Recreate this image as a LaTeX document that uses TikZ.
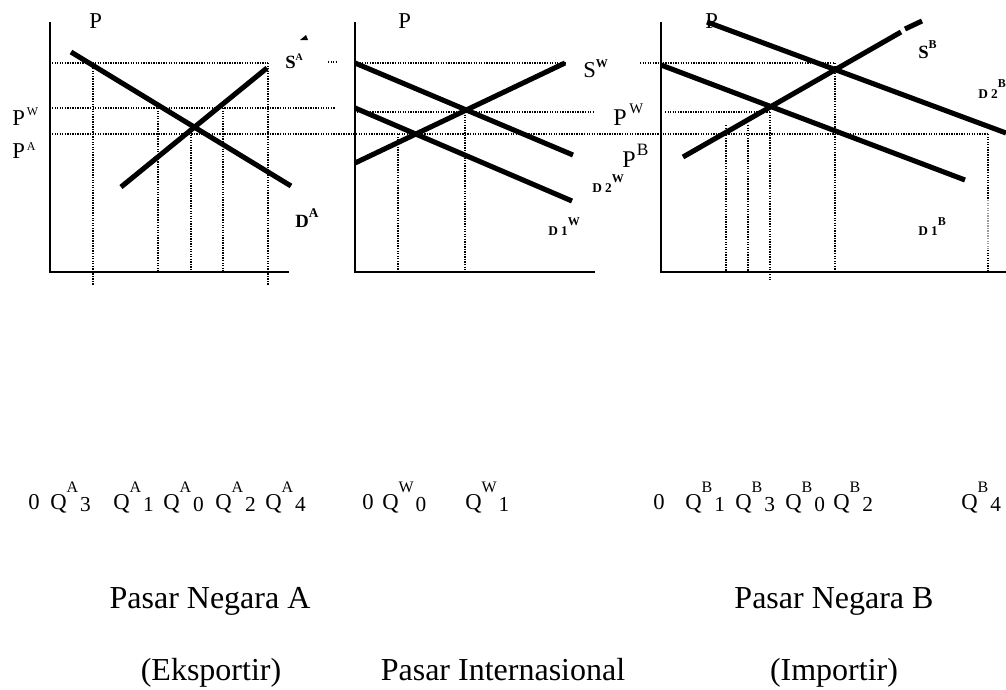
\documentclass[tikz,border=0pt]{standalone}
\usepackage{fontspec}
\setmainfont{Liberation Serif}
\usetikzlibrary{positioning}

% raised small letter: raise, size, text
\newcommand{\rais}[3]{\raisebox{#1}{\fontsize{#2}{#2}\selectfont #3}}
% quantity label Q^X_n
\newcommand{\qlab}[2]{Q\rais{12.5pt}{12}{#1}\kern1.5pt\raisebox{-2pt}{\fontsize{16}{16}\selectfont #2}}

\begin{document}
\begin{tikzpicture}[x=0.75pt, y=-0.75pt,
    axis/.style={draw=black, line width=1.8pt},
    curve/.style={draw=black, line width=3.8pt},
    guide/.style={draw=black, line width=1.3pt, dash pattern=on 1pt off 0.9pt},
    lbl/.style={inner sep=0pt, anchor=base west, font=\fontsize{17}{17}\selectfont},
    tag/.style={inner sep=0pt, anchor=base west, font=\bfseries\fontsize{10}{10}\selectfont},
    title/.style={inner sep=0pt, anchor=base, font=\fontsize{24}{24}\selectfont}
]
    \useasboundingbox (0,0) rectangle (1006,689);

    % Pasar Negara A
    \draw[guide] (52,63) -- (268,63);
    \draw[guide] (52,108) -- (335,108);
    \draw[guide] (52,134) -- (988,134);
    \draw[guide] (93,63) -- (93,285);
    \draw[guide] (158,108) -- (158,272);
    \draw[guide] (191,132) -- (191,272);
    \draw[guide] (223,108) -- (223,272);
    \draw[guide] (268,63) -- (268,285);
    \draw[axis] (50,22) -- (50,272) -- (289,272);
    \draw[curve] (71,52) -- (291,186);
    \draw[curve] (121,187) -- (267,68);
    \fill (300,40) -- (308,40) -- (306,35) -- cycle;

    \node[lbl] (pA) at (89,28) {P};
    \node[lbl] (pwA) at (12,125) {P\kern1.5pt\rais{7.5pt}{9}{W}};
    \node[lbl] (paA) at (12,158) {P\kern1.5pt\rais{6pt}{9}{A}};
    \node[lbl, font=\bfseries\fontsize{14}{14}\selectfont] (sA) at (285,68) {S\rais{6pt}{7.5}{A}};
    \node[lbl, font=\bfseries\fontsize{14}{14}\selectfont] (dA) at (295,227) {D\rais{7.5pt}{10}{A}};

    % Pasar Internasional
    \draw[guide] (328,62) -- (337,62);
    \draw[guide] (357,63) -- (565,63);
    \draw[guide] (357,112) -- (593,112);
    \draw[guide] (398,134) -- (398,272);
    \draw[guide] (465,112) -- (465,272);
    \draw[axis] (355,22) -- (355,272) -- (595,272);
    \draw[curve] (355,163) -- (565,63);
    \draw[curve] (355,63) -- (573,155);
    \draw[curve] (355,108) -- (572,201);

    \node[lbl] (pW) at (398,28) {P};
    \node[lbl] (sW) at (583,77) {S\rais{7.5pt}{9}{\bfseries W}};
    \node[lbl, font=\fontsize{18}{18}\selectfont] (pwW) at (613,125) {P\kern2pt\rais{9pt}{11}{W}};
    \node[lbl, font=\fontsize{18}{18}\selectfont] (pbW) at (622,167) {P\kern1pt\rais{9pt}{13}{B}};
    \node[tag] (d2W) at (592,192) {D 2\rais{7.5pt}{9}{W}};
    \node[tag] (d1W) at (548,235) {D 1\rais{7.5pt}{9}{W}};

    % Pasar Negara B
    \draw[guide] (640,63) -- (835,63);
    \draw[guide] (665,112) -- (770,112);
    \draw[guide] (726,125) -- (726,272);
    \draw[guide] (748,125) -- (748,272);
    \draw[guide] (770,112) -- (770,280);
    \draw[guide] (835,63) -- (835,272);
    \draw[guide] (988,134) -- (988,200);
    \draw[guide, draw=black!40] (988,200) -- (988,250);
    \draw[guide] (988,250) -- (988,272);
    \draw[axis] (661,22) -- (661,272) -- (1006,272);
    \draw[curve] (707,22) -- (1006,133);
    \draw[curve] (661,65) -- (965,180);
    \draw[curve] (683,157) -- (901,32);
    \draw[curve] (905,29) -- (922,21);

    \node[lbl] (pB) at (705,28) {P};
    \node[lbl, font=\bfseries\fontsize{14}{14}\selectfont] (sB) at (918,58) {S\rais{7.5pt}{9}{B}};
    \node[tag] (d2B) at (978,98) {D 2\rais{8pt}{9}{B}};
    \node[tag] (d1B) at (918,235) {D 1\rais{7.5pt}{9}{B}};

    % quantities
    \node[lbl] (zA) at (28,509) {0};
    \node[lbl] (qA3) at (50,509) {\qlab{A}{3}};
    \node[lbl] (qA1) at (113,509) {\qlab{A}{1}};
    \node[lbl] (qA0) at (163,509) {\qlab{A}{0}};
    \node[lbl] (qA2) at (215,509) {\qlab{A}{2}};
    \node[lbl] (qA4) at (265,509) {\qlab{A}{4}};
    \node[lbl] (zW) at (362,509) {0};
    \node[lbl] (qW0) at (382,509) {\qlab{W}{0}};
    \node[lbl] (qW1) at (465,509) {\qlab{W}{1}};
    \node[lbl] (zB) at (653,509) {0};
    \node[lbl] (qB1) at (685,509) {\qlab{B}{1}};
    \node[lbl] (qB3) at (735,509) {\qlab{B}{3}};
    \node[lbl] (qB0) at (785,509) {\qlab{B}{0}};
    \node[lbl] (qB2) at (833,509) {\qlab{B}{2}};
    \node[lbl] (qB4) at (961,509) {\qlab{B}{4}};

    % titles
    \node[title] (tA) at (210,608) {Pasar Negara A};
    \node[title] (eA) at (211,680) {(Eksportir)};
    \node[title] (tW) at (503,680) {Pasar Internasional};
    \node[title] (tB) at (834,608) {Pasar Negara B};
    \node[title] (iB) at (834,680) {(Importir)};
\end{tikzpicture}
\end{document}
